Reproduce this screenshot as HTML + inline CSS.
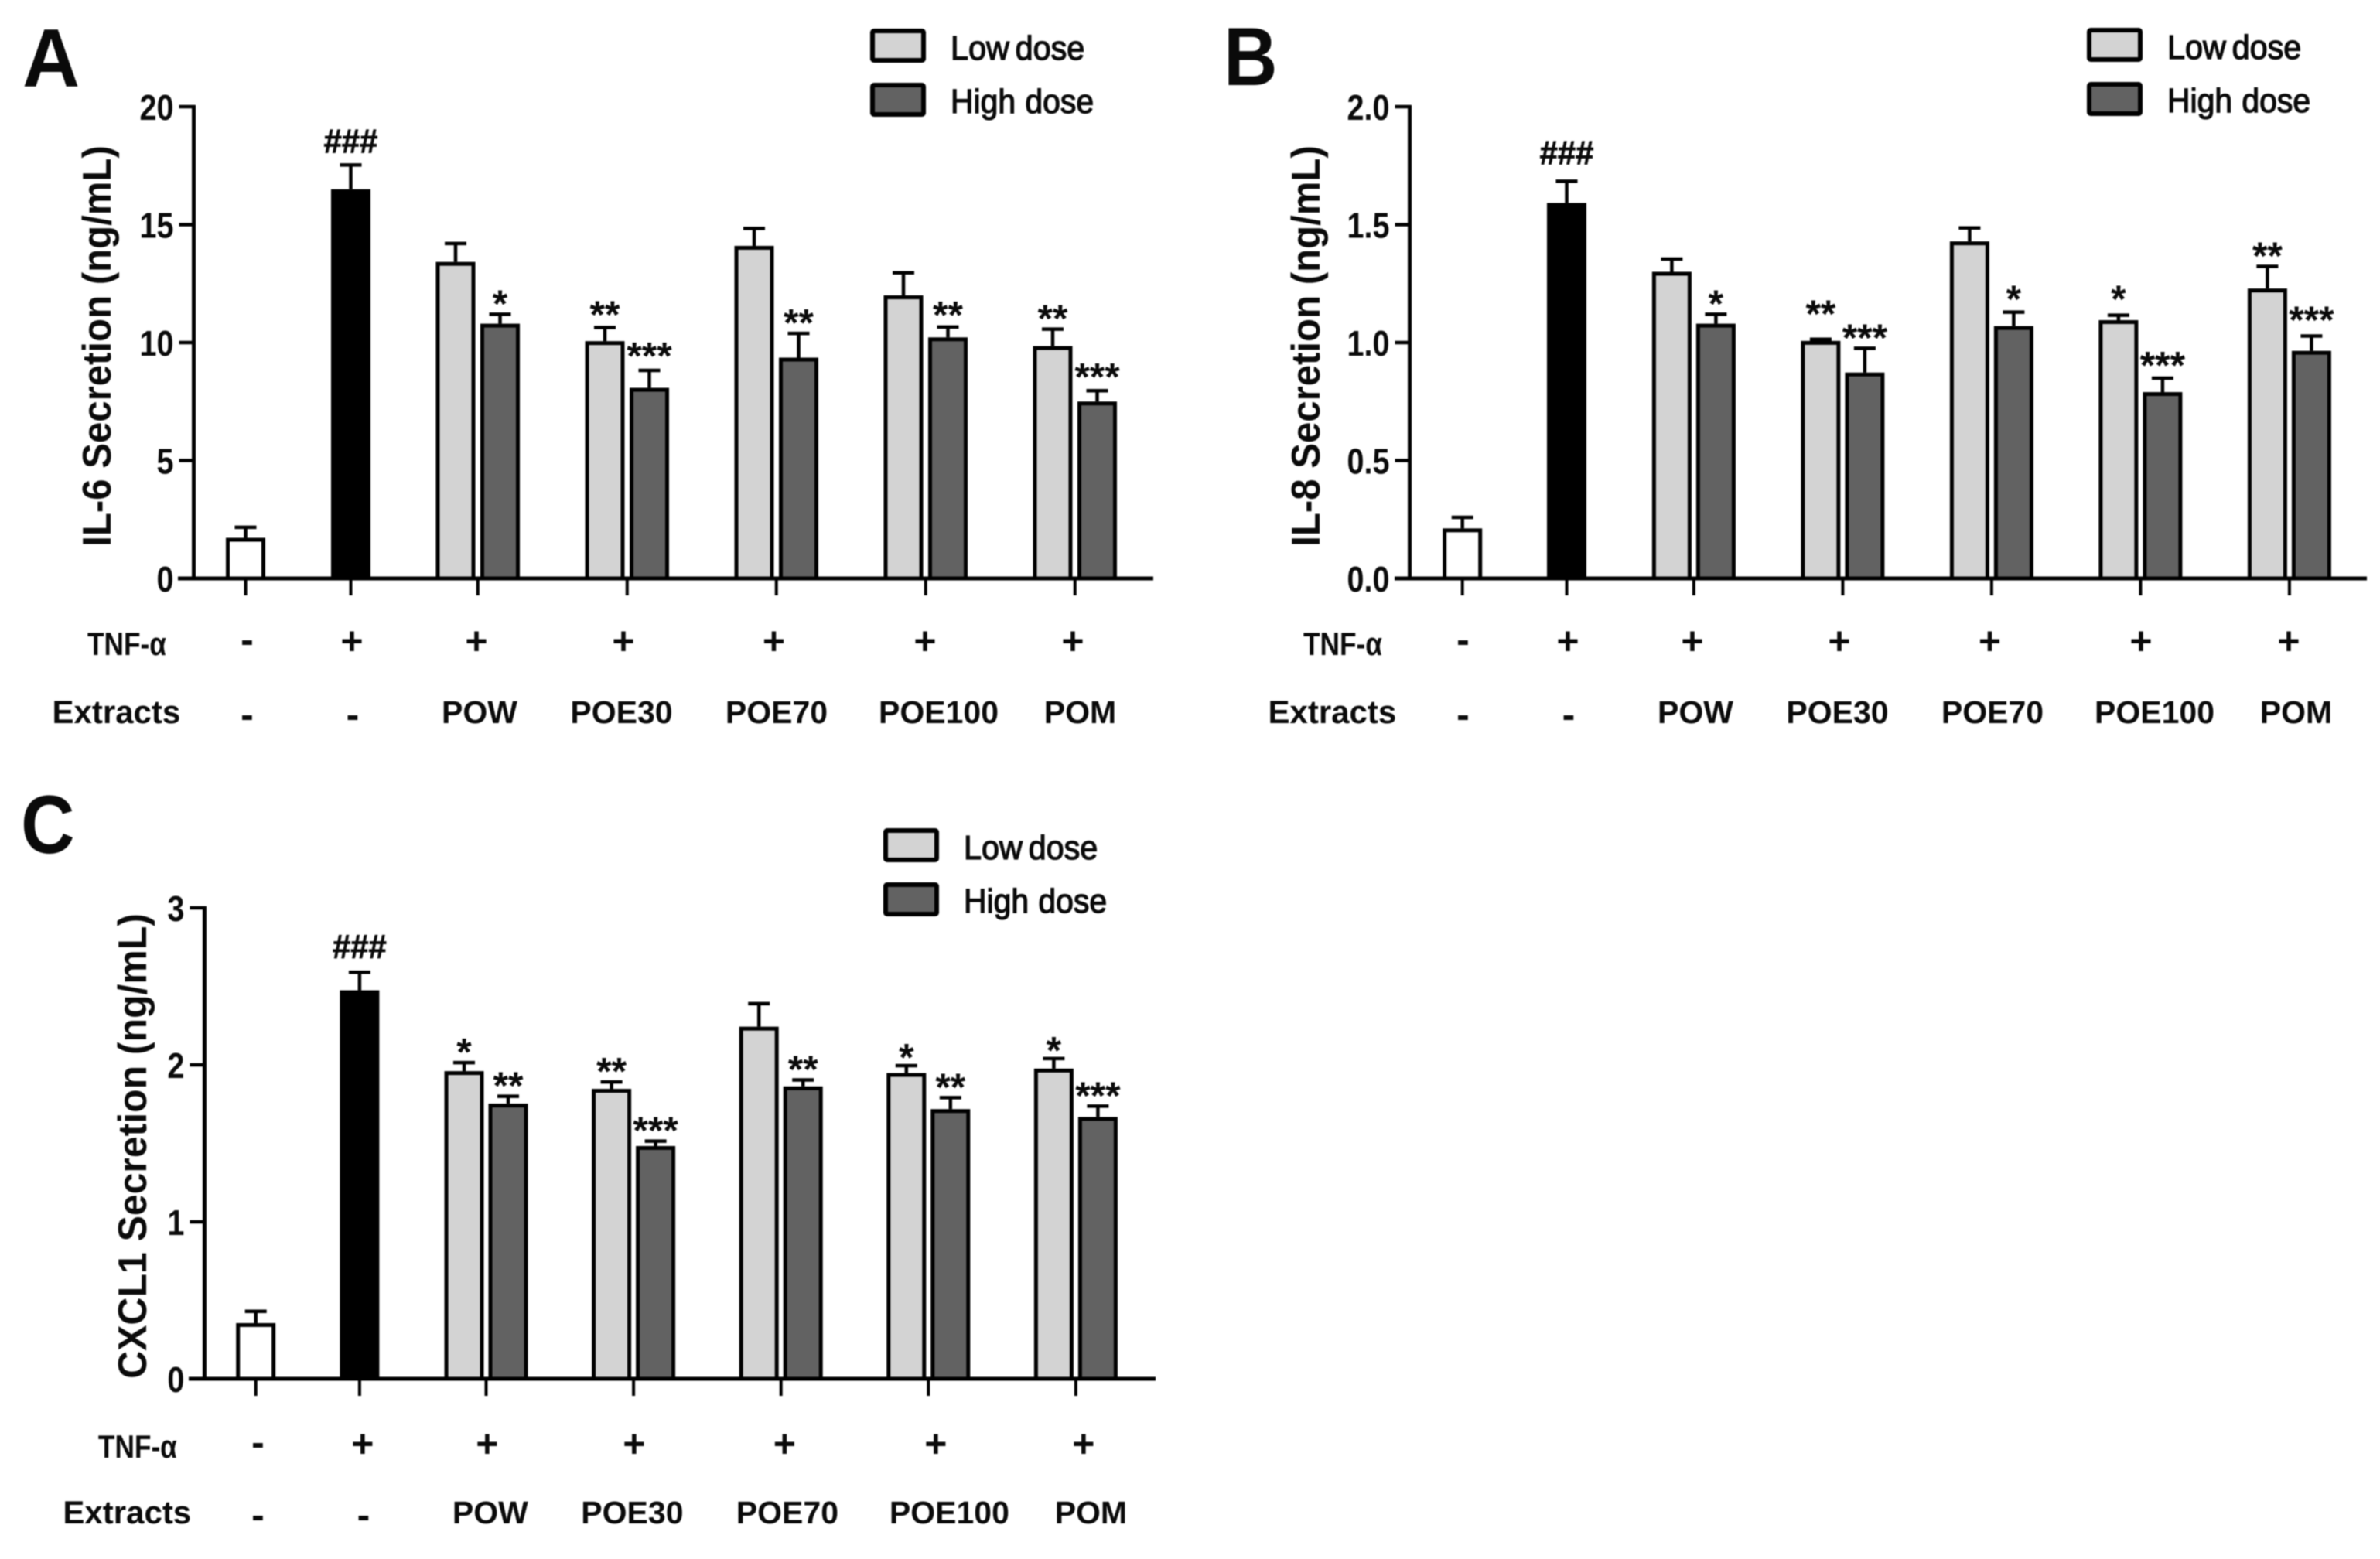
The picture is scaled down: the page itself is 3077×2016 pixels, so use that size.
<!DOCTYPE html>
<html lang="en">
<head>
<meta charset="utf-8">
<title>Cytokine secretion bar charts</title>
<style>
html,body{margin:0;padding:0;background:#fff;}
#figure{display:block;width:3077px;height:2016px;filter:blur(0.8px);font-family:"Liberation Sans",sans-serif;}
</style>
</head>
<body>
<svg id="figure" xmlns="http://www.w3.org/2000/svg" width="3077" height="2016" viewBox="0 0 3077 2016"></svg>
<script>
const tnfRow = ['-', '+', '+', '+', '+', '+', '+'];
const extractsRow = ['-', '-', 'POW', 'POE30', 'POE70', 'POE100', 'POM'];
const singleNames = ['control', 'tnf-only'];
const groupNames = ['pow', 'poe30', 'poe70', 'poe100', 'pom'];

const il6Ticks = ['0', '5', '10', '15', '20'];
const il6Single = [1.72, 16.5];
const il6SingleErr = [2.17, 17.53];
const il6Low = [13.42, 10.06, 14.1, 12.0, 9.85];
const il6LowErr = [14.2, 10.64, 14.84, 12.96, 10.57];
const il6High = [10.8, 8.08, 9.36, 10.22, 7.5];
const il6HighErr = [11.2, 8.82, 10.39, 10.66, 7.96];
const il6LowStars = ['', '**', '', '', '**'];
const il6HighStars = ['*', '***', '**', '**', '***'];

const il8Ticks = ['0.0', '0.5', '1.0', '1.5', '2.0'];
const il8Single = [0.212, 1.592];
const il8SingleErr = [0.259, 1.684];
const il8Low = [1.3, 1.007, 1.429, 1.095, 1.229];
const il8LowErr = [1.354, 1.014, 1.486, 1.116, 1.323];
const il8High = [1.08, 0.873, 1.07, 0.79, 0.965];
const il8HighErr = [1.12, 0.976, 1.129, 0.849, 1.028];
const il8LowStars = ['', '**', '', '*', '**'];
const il8HighStars = ['*', '***', '*', '***', '***'];

const cxcl1Ticks = ['0', '1', '2', '3'];
const cxcl1Single = [0.355, 2.475];
const cxcl1SingleErr = [0.43, 2.59];
const cxcl1Low = [1.96, 1.847, 2.243, 1.948, 1.976];
const cxcl1LowErr = [2.014, 1.891, 2.39, 1.995, 2.04];
const cxcl1High = [1.753, 1.483, 1.863, 1.718, 1.668];
const cxcl1HighErr = [1.80, 1.514, 1.904, 1.791, 1.737];
const cxcl1LowStars = ['*', '**', '', '*', '*'];
const cxcl1HighStars = ['**', '***', '**', '**', '***'];

const svgNS = 'http://www.w3.org/2000/svg';
const root = document.getElementById('figure');

function makeGroup(parent, name) {
  const el = document.createElementNS(svgNS, 'g');
  
  
  parent.appendChild(el);
  return el;
}
function makeLine(parent, name, x1, y1, x2, y2, w) {
  const el = document.createElementNS(svgNS, 'line');
  
  
  el.setAttribute('x1', x1);
  el.setAttribute('y1', y1);
  el.setAttribute('x2', x2);
  el.setAttribute('y2', y2);
  el.setAttribute('stroke', '#000');
  el.setAttribute('stroke-width', w);
  parent.appendChild(el);
  return el;
}
function makeRect(parent, name, x, y, w, h, fill, sw, rx) {
  const el = document.createElementNS(svgNS, 'rect');
  
  
  el.setAttribute('x', x);
  el.setAttribute('y', y);
  el.setAttribute('width', w);
  el.setAttribute('height', h);
  el.setAttribute('fill', fill);
  el.setAttribute('stroke', '#000');
  el.setAttribute('stroke-width', sw);
  el.setAttribute('rx', rx || 0);
  parent.appendChild(el);
  return el;
}
function makeText(parent, name, str, x, y, size, weight, anchor, sx, rot, extraStroke) {
  const el = document.createElementNS(svgNS, 'text');
  
  
  el.setAttribute('font-size', size);
  el.setAttribute('font-weight', weight);
  el.setAttribute('text-anchor', anchor);
  el.setAttribute('fill', '#0a0a0a');
  el.setAttribute('font-family', '"Liberation Sans", sans-serif');
  if (extraStroke) {
    el.setAttribute('stroke', '#0a0a0a');
    el.setAttribute('stroke-width', extraStroke);
  }
  el.setAttribute('transform', 'translate(' + x + ' ' + y + ') rotate(' + (rot || 0) + ') scale(' + (sx || 1) + ' 1)');
  el.textContent = str;
  parent.appendChild(el);
  return el;
}

function drawChart(cfg) {
  const g = makeGroup(root, cfg.id + '-chart');
  const yOf = function (v) { return cfg.y0 - (v / cfg.yMax) * (cfg.y0 - cfg.yTop); };

  makeText(g, cfg.id + '-panel-letter', cfg.letter, cfg.letterX, cfg.letterY, 107, 'bold', 'start', cfg.letterScale);
  makeText(g, cfg.id + '-y-axis-title', cfg.title, cfg.titleX, cfg.titleY, 52, 'bold', 'middle', cfg.titleScale, -90);

  function drawBar(name, key, cx, value, err, fill, stars) {
    const top = yOf(value);
    const capY = yOf(err);
    makeLine(g, name + '-error-stem', cx, top, cx, capY, 4.5);
    makeLine(g, name + '-error-cap', cx - 14, capY, cx + 14, capY, 4.5);
    makeRect(g, name, cx - 23, top + 2.5, 46, cfg.y0 - top - 2.5, fill, 5);
    if (stars) {
      const nudge = (cfg.starNudge && cfg.starNudge[key]) || 0;
      makeText(g, name + '-significance', stars, cx, capY + 3.5 + nudge, 50, 'bold', 'middle');
    }
  }

  const singleFills = ['#ffffff', '#000000'];
  cfg.single.forEach(function (v, i) {
    const cx = cfg.singleX[i];
    drawBar(cfg.id + '-bar-' + singleNames[i], 's' + i, cx, v, cfg.singleErr[i], singleFills[i]);
    makeLine(g, cfg.id + '-x-tick-' + singleNames[i], cx, cfg.y0, cx, cfg.y0 + 22, 4);
  });
  makeText(g, cfg.id + '-hash-significance', '###', cfg.singleX[1], yOf(cfg.singleErr[1]) - cfg.hashLift, 44, 'bold', 'middle', 0.95, 0, 0.8);

  cfg.low.forEach(function (v, i) {
    const lowX = cfg.lowStart + cfg.step * i;
    const highX = lowX + cfg.gap;
    drawBar(cfg.id + '-bar-' + groupNames[i] + '-low', 'low' + i, lowX, v, cfg.lowErr[i], '#d3d3d3', cfg.lowStars[i]);
    drawBar(cfg.id + '-bar-' + groupNames[i] + '-high', 'high' + i, highX, cfg.high[i], cfg.highErr[i], '#626262', cfg.highStars[i]);
    makeLine(g, cfg.id + '-x-tick-' + groupNames[i], lowX + cfg.gap / 2, cfg.y0, lowX + cfg.gap / 2, cfg.y0 + 22, 4);
  });

  makeLine(g, cfg.id + '-y-axis', cfg.axisX, cfg.yTop - 2, cfg.axisX, cfg.y0 + 2, 5);
  makeLine(g, cfg.id + '-x-axis', cfg.axisLeft, cfg.y0, cfg.axisRight, cfg.y0, 5);
  cfg.ticks.forEach(function (label, i) {
    const v = i * cfg.yMax / (cfg.ticks.length - 1);
    const ty = yOf(v);
    if (i > 0) {
      makeLine(g, cfg.id + '-y-tick-' + i, cfg.axisX - 19, ty, cfg.axisX + 2, ty, 4.5);
    }
    makeText(g, cfg.id + '-y-tick-label-' + i, label, cfg.axisX - 26, ty + 17, 46, 'bold', 'end', 0.86);
  });

  const rowShift = cfg.rowShift;
  const rowBase = cfg.y0;
  const tnfOffsets = [69, 204.5, 365.5, 555.5, 750, 945.5, 1136.5];
  const extractsOffsets = [69, 205.5, 369.5, 553, 753.5, 963, 1146];
  makeText(g, cfg.id + '-tnf-row-label', 'TNF-\u03b1', cfg.axisX - 137.5, rowBase + 99 + rowShift, 42, 'bold', 'start', 0.84);
  makeText(g, cfg.id + '-extracts-row-label', 'Extracts', cfg.axisX - 183, rowBase + 187, 42, 'bold', 'start', 1.0);
  tnfRow.forEach(function (sym, i) {
    const lift = sym === '+' ? 98 : 96;
    makeText(g, cfg.id + '-tnf-value-' + i, sym, cfg.axisX + tnfOffsets[i], rowBase + lift + rowShift, 50, 'bold', 'middle');
  });
  extractsRow.forEach(function (lab, i) {
    const isDash = lab === '-';
    makeText(g, cfg.id + '-extract-label-' + i, lab, cfg.axisX + extractsOffsets[i], rowBase + (isDash ? 193 : 187), isDash ? 50 : 41, 'bold', 'middle');
  });

  const lg = makeGroup(g, cfg.id + '-legend');
  makeRect(lg, cfg.id + '-legend-swatch-low', cfg.legendX + 3, cfg.legendY + 3, 66, 38, '#d3d3d3', 6, 2);
  makeRect(lg, cfg.id + '-legend-swatch-high', cfg.legendX + 3, cfg.legendY + 73, 66, 38, '#626262', 6, 2);
  const lowLabel = makeText(lg, cfg.id + '-legend-label-low', 'Low dose', cfg.legendX + 104, cfg.legendY + 40, 44, 'normal', 'start', 0.94, 0, 1.3);
  lowLabel.setAttribute('word-spacing', '-4');
  const highLabel = makeText(lg, cfg.id + '-legend-label-high', 'High dose', cfg.legendX + 104, cfg.legendY + 109, 44, 'normal', 'start', 0.93, 0, 1.3);
  highLabel.setAttribute('word-spacing', '1');
}

drawChart({
  id: 'il6', letter: 'A', letterX: 29, letterY: 112, letterScale: 0.96,
  title: 'IL-6 Secretion (ng/mL)', titleX: 143, titleY: 447.5, titleScale: 0.945,
  axisX: 250.5, axisLeft: 230, axisRight: 1491, y0: 748, yTop: 138, yMax: 20,
  ticks: il6Ticks, single: il6Single, singleErr: il6SingleErr, singleX: [317.5, 453.5],
  low: il6Low, lowErr: il6LowErr, high: il6High, highErr: il6HighErr,
  lowStars: il6LowStars, highStars: il6HighStars, hashLift: 16,
  starNudge: { low1: -3, high1: -5, high3: -2, high4: -4 },
  lowStart: 589, step: 193, gap: 57.5, rowShift: 0, legendX: 1125, legendY: 37
});
drawChart({
  id: 'il8', letter: 'B', letterX: 1582, letterY: 110, letterScale: 0.9,
  title: 'IL-8 Secretion (ng/mL)', titleX: 1706, titleY: 447.5, titleScale: 0.945,
  axisX: 1822.5, axisLeft: 1803, axisRight: 3060, y0: 748, yTop: 138, yMax: 2,
  ticks: il8Ticks, single: il8Single, singleErr: il8SingleErr, singleX: [1890.7, 2025.5],
  low: il8Low, lowErr: il8LowErr, high: il8High, highErr: il8HighErr,
  lowStars: il8LowStars, highStars: il8HighStars, hashLift: 22,
  starNudge: { low1: -19, low3: -7, high2: -3, high3: -3, high4: -7 },
  lowStart: 2161.4, step: 192.5, gap: 57, rowShift: 0, legendX: 2698, legendY: 36
});
drawChart({
  id: 'cxcl1', letter: 'C', letterX: 27, letterY: 1103, letterScale: 0.9,
  title: 'CXCL1 Secretion (ng/mL)', titleX: 189, titleY: 1482, titleScale: 0.96,
  axisX: 264.4, axisLeft: 244, axisRight: 1494, y0: 1783, yTop: 1174, yMax: 3,
  ticks: cxcl1Ticks, single: cxcl1Single, singleErr: cxcl1SingleErr, singleX: [330.7, 464.9],
  low: cxcl1Low, lowErr: cxcl1LowErr, high: cxcl1High, highErr: cxcl1HighErr,
  lowStars: cxcl1LowStars, highStars: cxcl1HighStars, hashLift: 18,
  starNudge: { low3: 3, low4: 3 },
  lowStart: 600, step: 190.6, gap: 57, rowShift: 3, legendX: 1142, legendY: 1071
});
</script>
</body>
</html>
